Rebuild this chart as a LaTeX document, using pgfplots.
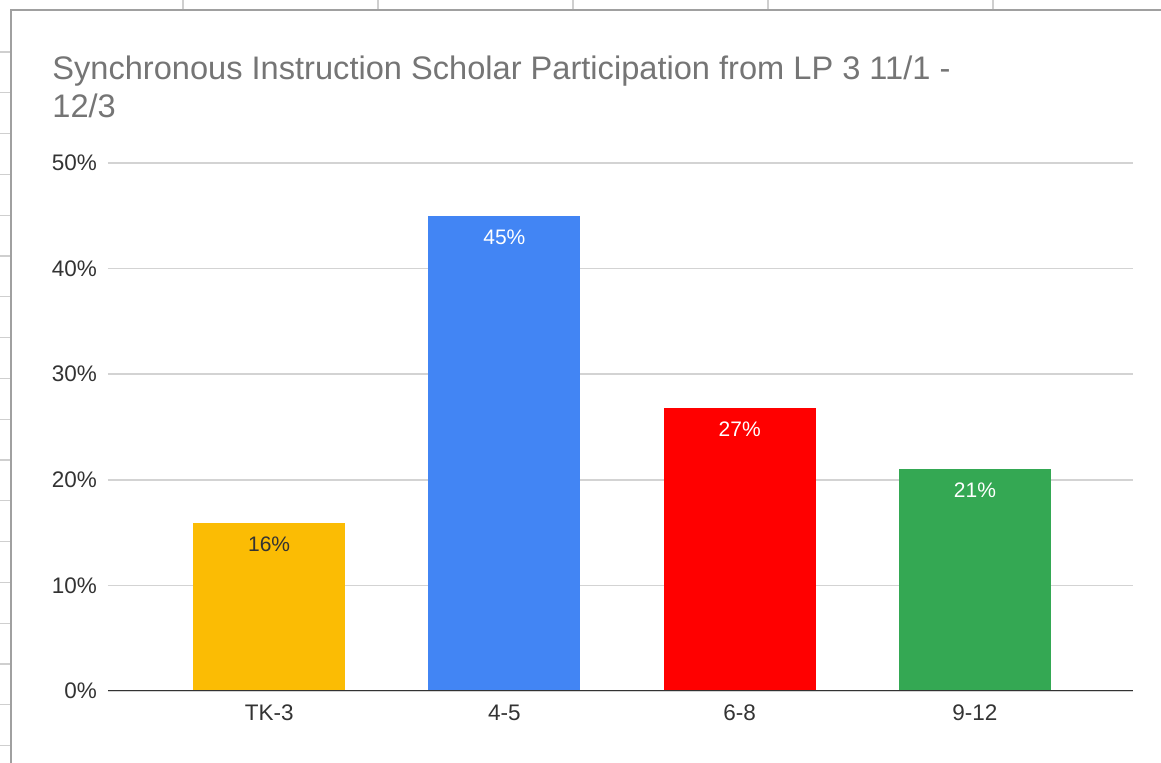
\documentclass[border=0pt]{standalone}
\usepackage{fontspec}
\setmainfont{Liberation Sans}
\usepackage{pgfplots}
\pgfplotsset{compat=1.18}
\definecolor{gyellow}{HTML}{FBBC04}
\definecolor{gblue}{HTML}{4285F4}
\definecolor{gred}{HTML}{FF0000}
\definecolor{ggreen}{HTML}{34A853}
\definecolor{titlegray}{HTML}{757575}
\definecolor{gridgray}{HTML}{D3D3D3}
\definecolor{cellgray}{HTML}{CFCFCF}
\definecolor{bordergray}{HTML}{A0A0A0}
\definecolor{labelgray}{HTML}{333333}
\begin{document}
\begin{tikzpicture}[x=1pt,y=1pt]
\path[use as bounding box] (0,0) rectangle (580.5,381.5);
% spreadsheet cells behind the chart
\foreach \yy in {52,92.8,133.6,174.4,215.2,256,296.8,337.6,378.4,419.2,460,500.8,541.6,582.4,623.2,664,704.8,745.6}
  \draw[cellgray, line width=0.6pt] (0,{(763-\yy)/2}) -- (5.5,{(763-\yy)/2});
\foreach \xx in {91.5,189,286.5,384,496.5}
  \draw[cellgray, line width=0.6pt] (\xx,376.5) -- (\xx,381.5);
\draw[bordergray, line width=0.75pt] (5.5,0) -- (5.5,376.5) -- (580.5,376.5);

% title
\node[anchor=base west, inner sep=0pt, text=titlegray, font=\fontsize{16.3}{19}\selectfont]
  at (26,341.5) {Synchronous Instruction Scholar Participation from LP 3 11/1 -};
\node[anchor=base west, inner sep=0pt, text=titlegray, font=\fontsize{16.3}{19}\selectfont]
  at (26,322.5) {12/3};

\begin{axis}[
    at={(54pt,36pt)}, anchor=south west,
    scale only axis,
    width=512.5pt, height=264pt,
    xmin=-0.685, xmax=3.672,
    ymin=0, ymax=50,
    xtick={0,1,2,3},
    xticklabels={TK-3,4-5,6-8,9-12},
    ytick={0,10,...,50},
    yticklabel={\pgfmathprintnumber{\tick}\%},
    /pgf/number format/assume math mode=true,
    ymajorgrids=true,
    grid style={draw=gridgray, line width=0.75pt},
    axis line style={draw=none},
    major tick length=0pt,
    tick label style={font=\fontsize{11.25}{13}\selectfont, text=labelgray},
    yticklabel style={xshift=-2pt},
    xticklabel style={yshift=-3.5pt},
    ybar, bar width=76pt, bar shift=0pt,
    nodes near coords={\pgfmathprintnumber[fixed,precision=0]{\pgfplotspointmeta}\%},
    every node near coord/.append style={anchor=north, yshift=-3.5pt,
        font=\fontsize{10.5}{12}\selectfont, text=white},
]
\addplot[fill=gyellow, draw=none, every node near coord/.append style={text=black!80}]
    coordinates {(0,15.9)};
\addplot[fill=gblue, draw=none] coordinates {(1,45)};
\addplot[fill=gred, draw=none] coordinates {(2,26.8)};
\addplot[fill=ggreen, draw=none] coordinates {(3,21)};
\draw[labelgray, line width=1pt] (rel axis cs:0,0) -- (rel axis cs:1,0);
\end{axis}
\end{tikzpicture}
\end{document}
